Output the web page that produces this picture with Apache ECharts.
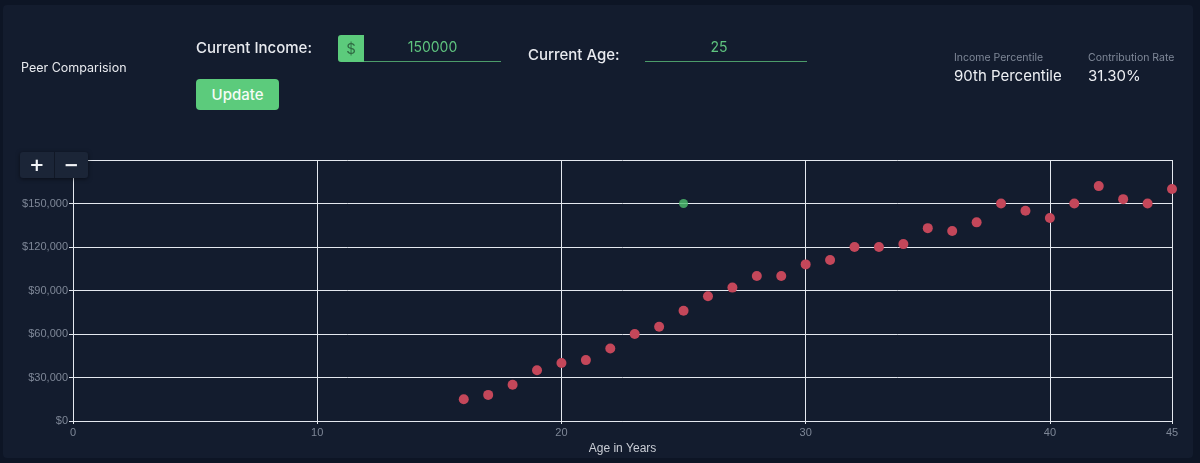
<!DOCTYPE html>
<html>
<head>
<meta charset="utf-8">
<script src="https://cdn.jsdelivr.net/npm/echarts@6/dist/echarts.min.js"></script>
<style>
  html, body { margin: 0; padding: 0; background: #0d1525; }
  #card {
    position: absolute; left: 3px; top: 5px; width: 1190px; height: 453px;
    background: #131c2e; border-radius: 4px; overflow: hidden;
  }
  #chart { position: absolute; left: 0; top: 0; width: 1200px; height: 463px; }
  .t { position: absolute; font-family: Inter, "Open Sans", sans-serif; color: #e8eaef; white-space: nowrap; }
  .lbl { font-size: 15px; font-weight: 500; }
  .input-line { position: absolute; height: 0; border-bottom: 1.5px solid #4c9c6a; }
  .input-val { position: absolute; font-family: Inter, sans-serif; font-size: 14px; color: #5fc47f; text-align: center; }
  .dollar {
    position: absolute; left: 338px; top: 35px; width: 26px; height: 27px;
    background: #5ccb7c; border-radius: 3px 0 0 3px; color: #2f6a43;
    font-family: Inter, sans-serif; font-size: 15px; text-align: center; line-height: 27px;
  }
  .btn {
    position: absolute; left: 196px; top: 79px; width: 83px; height: 31px;
    background: #5ccb7c; border-radius: 4px; color: #f4fbf6;
    font-family: Inter, sans-serif; font-size: 15px; font-weight: 500; text-align: center; line-height: 31px;
  }
  .small { font-size: 10.5px; color: #7f8898; }
  .big { font-size: 15px; color: #eef0f4; }
  .zoom {
    position: absolute; left: 20px; top: 152px; width: 68px; height: 26px;
    background: #1b2537; border-radius: 3px; box-shadow: 0 1px 4px rgba(0,0,0,0.5);
    display: flex; z-index: 5;
  }
  .zoom div {
    flex: 1; color: #f2f4f7; font-family: "DejaVu Sans", sans-serif; font-size: 18px; font-weight: bold;
    text-align: center; line-height: 26px;
  }
  .zoom div:first-child { border-right: 1px solid #111826; }
</style>
</head>
<body>
<div id="card"></div>
<div id="chart"></div>

<div class="t" style="left:21px;top:60px;font-size:12.5px;">Peer Comparision</div>
<div class="t lbl" style="left:196px;top:38px;">Current Income:</div>
<div class="dollar">$</div>
<div class="input-line" style="left:364px;top:61px;width:137px;"></div>
<div class="input-val" style="left:364px;top:38px;width:137px;">150000</div>
<div class="t lbl" style="left:528px;top:45px;">Current Age:</div>
<div class="input-line" style="left:645px;top:61px;width:162px;"></div>
<div class="input-val" style="left:645px;top:38px;width:148px;">25</div>
<div class="btn">Update</div>

<div class="t small" style="left:954px;top:51px;">Income Percentile</div>
<div class="t big" style="left:954px;top:66px;">90th Percentile</div>
<div class="t small" style="left:1088px;top:51px;">Contribution Rate</div>
<div class="t big" style="left:1088px;top:66px;">31.30%</div>

<div class="zoom"><div>+</div><div>&minus;</div></div>

<script>
var peerAges = [16, 17, 18, 19, 20, 21, 22, 23, 24, 25, 26, 27, 28, 29, 30,
                31, 32, 33, 34, 35, 36, 37, 38, 39, 40, 41, 42, 43, 44, 45];
var peerIncomes = [15000, 18000, 25000, 35000, 40000, 42000, 50000, 60000, 65000, 76000,
                   86000, 92000, 100000, 100000, 108000, 111000, 120000, 120000, 122000, 133000,
                   131000, 137000, 150000, 145000, 140000, 150000, 162000, 153000, 150000, 160000];
var userAge = [25];
var userIncome = [150000];

var peerData = peerAges.map(function (a, i) { return [a, peerIncomes[i]]; });
var userData = userAge.map(function (a, i) { return [a, userIncome[i]]; });

var chart = echarts.init(document.getElementById('chart'));
chart.setOption({
    backgroundColor: 'transparent',
    animation: false,
    grid: { left: 73, right: 28, top: 160, bottom: 42 },
    xAxis: {
        type: 'value',
        min: 0,
        max: 45,
        interval: 10,
        name: 'Age in Years',
        nameLocation: 'middle',
        nameGap: 14,
        nameTextStyle: { color: '#c9cdd5', fontSize: 12, fontFamily: 'Liberation Sans' },
        axisLine: { lineStyle: { color: '#e4e8ef', width: 1 } },
        axisTick: { show: true, length: 3, lineStyle: { color: '#e4e8ef' } },
        axisLabel: { color: '#7e8797', fontSize: 11, fontFamily: 'Liberation Sans', margin: 6, showMaxLabel: true },
        splitLine: { show: true, lineStyle: { color: '#e4e8ef', width: 1 } }
    },
    yAxis: {
        type: 'value',
        min: 0,
        max: 180000,
        interval: 30000,
        axisLine: { show: true, lineStyle: { color: '#e4e8ef', width: 1 } },
        axisTick: { show: true, length: 4, lineStyle: { color: '#e4e8ef' } },
        axisLabel: {
            color: '#7e8797', fontSize: 11, fontFamily: 'Liberation Sans', margin: 5,
            showMaxLabel: false,
            formatter: function (v) { return '$' + v.toLocaleString('en-US'); }
        },
        splitLine: { show: true, lineStyle: { color: '#e4e8ef', width: 1 } }
    },
    series: [
        {
            name: 'Peers',
            type: 'scatter',
            symbolSize: 10,
            itemStyle: { color: '#c4475a', opacity: 1 },
            data: peerData
        },
        {
            name: 'You',
            type: 'scatter',
            symbolSize: 9,
            itemStyle: { color: '#4fbf6e' },
            data: userData
        }
    ]
});
</script>
</body>
</html>
